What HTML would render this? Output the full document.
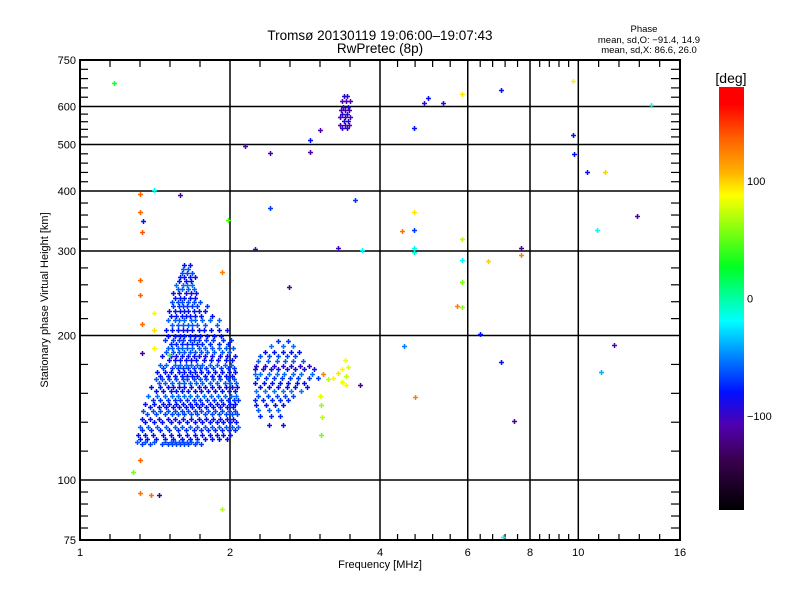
<!DOCTYPE html>
<html><head><meta charset="utf-8">
<style>
body{margin:0;background:#fff;}
svg{display:block;font-family:"Liberation Sans",sans-serif;}
</style></head>
<body>
<svg id="chart" width="800" height="600" viewBox="0 0 800 600">
<defs>
<linearGradient id="cbar" x1="0" y1="1" x2="0" y2="0">
<stop offset="0" stop-color="#000000"/>
<stop offset="0.12" stop-color="#3a0050"/>
<stop offset="0.2" stop-color="#5000b0"/>
<stop offset="0.278" stop-color="#0010ff"/>
<stop offset="0.36" stop-color="#0080ff"/>
<stop offset="0.447" stop-color="#00ffff"/>
<stop offset="0.575" stop-color="#00ff20"/>
<stop offset="0.744" stop-color="#ffff00"/>
<stop offset="0.80" stop-color="#ffb000"/>
<stop offset="0.875" stop-color="#ff6400"/>
<stop offset="0.96" stop-color="#ff0000"/>
<stop offset="1" stop-color="#ff0000"/>
</linearGradient>
</defs>
<text x="380" y="40" font-size="13.5" text-anchor="middle">Tromsø 20130119 19:06:00–19:07:43</text>
<text x="380" y="53" font-size="13.5" text-anchor="middle">RwPretec (8p)</text>
<text x="644" y="32" font-size="9.5" text-anchor="middle">Phase</text>
<text x="649" y="43" font-size="9.5" text-anchor="middle">mean, sd,O: −91.4, 14.9</text>
<text x="649" y="53" font-size="9.5" text-anchor="middle">mean, sd,X:  86.6, 26.0</text>
<g id="grid"></g>
<g id="ticks"></g>
<g id="marks"></g>
<rect x="80" y="60" width="600" height="480" fill="none" stroke="#000" stroke-width="2"/>
<text x="380" y="568" font-size="11" text-anchor="middle">Frequency [MHz]</text>
<text transform="translate(48,300) rotate(-90)" font-size="11" text-anchor="middle">Stationary phase Virtual Height [km]</text>
<rect x="719" y="87" width="25" height="423" fill="url(#cbar)"/>
<text x="731" y="83" font-size="14" text-anchor="middle">[deg]</text>
<g id="cticks"></g>
</svg>
<script>
const xTicks=[1,2,4,6,8,10,16];
const yTicks=[75,100,200,300,400,500,600,750];
const cbTicks=[100,0,-100];
// main cluster (rows of equal height)
const mainHeights=[280,270,260,250,240,230,220,210,200,192,185,178,171,165,159,153,147,142,137,132,127,122,119];
const mainFreqs=[
[1.62,1.66],[1.60,1.64,1.68],[1.58,1.63,1.67],[1.57,1.60,1.65,1.69],
[1.55,1.59,1.62,1.66,1.70],[1.54,1.58,1.61,1.64,1.68,1.72,1.80],
[1.52,1.56,1.60,1.63,1.66,1.70,1.75,1.84],[1.53,1.57,1.61,1.65,1.68,1.72,1.78,1.88],
[1.50,1.55,1.59,1.62,1.66,1.70,1.74,1.80,1.86,1.92],[1.52,1.56,1.60,1.64,1.68,1.72,1.76,1.82,1.90,1.98],
[1.49,1.54,1.58,1.62,1.66,1.70,1.75,1.80,1.86,1.93,1.99],[1.51,1.55,1.59,1.63,1.67,1.71,1.77,1.83,1.89,1.96,2.02],
[1.47,1.53,1.57,1.61,1.65,1.69,1.74,1.79,1.85,1.92,1.98,2.04],[1.45,1.50,1.55,1.60,1.64,1.68,1.72,1.78,1.84,1.90,1.96,2.02],
[1.44,1.48,1.53,1.58,1.62,1.66,1.71,1.76,1.82,1.88,1.95,2.00,2.06],[1.42,1.47,1.52,1.56,1.60,1.65,1.70,1.75,1.81,1.87,1.93,1.99,2.05],
[1.40,1.45,1.50,1.55,1.59,1.64,1.69,1.74,1.80,1.86,1.92,1.98,2.04,2.08],[1.38,1.44,1.49,1.54,1.58,1.63,1.68,1.73,1.79,1.85,1.91,1.97,2.03],
[1.36,1.42,1.48,1.53,1.57,1.62,1.67,1.72,1.78,1.84,1.90,1.96,2.02,2.07],[1.35,1.41,1.46,1.52,1.58,1.64,1.70,1.76,1.82,1.88,1.94,2.00,2.06],
[1.33,1.39,1.45,1.51,1.57,1.63,1.69,1.75,1.81,1.87,1.93,1.99,2.05],[1.32,1.36,1.42,1.48,1.54,1.60,1.66,1.72,1.78,1.84,1.90,1.97],
[1.33,1.38,1.46,1.50,1.53,1.56,1.59,1.62,1.65,1.70,1.75]];
const mainPhases=[-100,-85,-100,-80,-100,-90,-100,-80,-100,-95,-82,-100,-90,-100,-80,-100,-92,-100,-85,-100,-95,-100,-88];
const main2Heights=[275,265,255,245,235,225,215,205,196,188,181,174,168,162,156,150,144,139,134,129,124,120];
const main2Freqs=[
[1.61,1.65],[1.59,1.62,1.66,1.70],[1.56,1.61,1.64,1.68],[1.54,1.58,1.63,1.67,1.71],
[1.53,1.57,1.60,1.65,1.69,1.74],[1.51,1.55,1.59,1.62,1.65,1.69,1.73,1.78],
[1.50,1.55,1.58,1.62,1.67,1.70,1.76,1.82,1.90],[1.49,1.53,1.57,1.61,1.64,1.68,1.73,1.77,1.83,1.90,1.97],
[1.48,1.54,1.58,1.61,1.66,1.69,1.73,1.79,1.85,1.94,2.01],[1.50,1.53,1.57,1.60,1.64,1.68,1.73,1.78,1.84,1.90,1.96,2.03],
[1.46,1.52,1.56,1.60,1.65,1.69,1.73,1.78,1.84,1.91,1.97,2.05],[1.45,1.49,1.55,1.59,1.63,1.67,1.72,1.76,1.82,1.88,1.95,2.01],
[1.43,1.48,1.52,1.58,1.62,1.66,1.70,1.75,1.81,1.87,1.93,1.99,2.05],[1.42,1.46,1.51,1.56,1.61,1.64,1.69,1.74,1.79,1.85,1.91,1.98,2.04],
[1.39,1.45,1.50,1.54,1.58,1.62,1.67,1.73,1.78,1.84,1.90,1.96,2.02,2.07],[1.37,1.43,1.48,1.53,1.57,1.62,1.66,1.72,1.77,1.83,1.89,1.95,2.01,2.06],
[1.35,1.41,1.47,1.51,1.56,1.61,1.66,1.71,1.76,1.82,1.88,1.94,2.00,2.05],[1.34,1.40,1.45,1.50,1.55,1.60,1.65,1.70,1.75,1.81,1.87,1.93,1.99,2.05],
[1.33,1.38,1.44,1.50,1.55,1.61,1.67,1.73,1.79,1.85,1.91,1.97,2.03],[1.32,1.37,1.43,1.49,1.55,1.60,1.66,1.72,1.78,1.84,1.90,1.96,2.02,2.08],
[1.31,1.35,1.40,1.47,1.52,1.58,1.64,1.70,1.76,1.82,1.88,1.94,2.00],[1.30,1.35,1.41,1.48,1.52,1.55,1.58,1.61,1.64,1.67,1.72]];
const main2Phases=[-80,-100,-75,-105,-85,-100,-78,-100,-90,-80,-104,-78,-100,-84,-102,-76,-100,-86,-104,-80,-100,-82];
// second cluster
const secHeights=[195,185,177,170,163,156,150,143,136,130];
const secFreqs=[[2.50,2.62],[2.35,2.45,2.55,2.65,2.75],[2.28,2.38,2.48,2.58,2.68,2.80],
[2.25,2.33,2.42,2.50,2.60,2.70,2.82,2.95],[2.27,2.36,2.45,2.54,2.64,2.74,2.88,3.0],
[2.30,2.40,2.50,2.60,2.70,2.85],[2.28,2.38,2.48,2.58,2.68],[2.26,2.36,2.46,2.55],[2.30,2.42,2.52],[2.40,2.55]];
const secPhases=[-90,-100,-80,-105,-90,-100,-85,-100,-95,-100];
const sec2Heights=[190,181,173,166,159,153,147,140];
const sec2Freqs=[[2.42,2.56,2.68],[2.30,2.40,2.50,2.60,2.70],[2.26,2.35,2.45,2.55,2.65,2.76,2.88],
[2.24,2.30,2.39,2.48,2.57,2.67,2.78,2.92],[2.25,2.34,2.43,2.52,2.62,2.72,2.82],
[2.26,2.35,2.45,2.55,2.65,2.78],[2.24,2.33,2.43,2.52,2.62],[2.28,2.40,2.50]];
const sec2Phases=[-75,-85,-110,-75,-100,-72,-95,-80];
// upper purple cluster
const topHeights=[630,615,600,590,580,570,560,550,540];
const topFreqs=[[3.38,3.44],[3.35,3.42,3.48],[3.37,3.45],[3.34,3.40,3.47],[3.36,3.44],[3.33,3.41,3.48],[3.38,3.45],[3.32,3.40,3.46],[3.35,3.43]];
const topPhases=[-110,-120,-105,-125,-110,-118,-108,-122,-112];
// isolated echoes
const ptFreq=[1.17,1.32,1.32,1.33,1.34,1.41,1.59,1.32,1.32,1.33,1.33,1.41,1.41,1.41,1.51,1.93,1.98,1.28,1.32,1.32,1.39,1.44,1.93,
2.14,2.41,2.63,2.24,2.41,2.9,2.9,3.03,3.3,3.68,3.56,3.64,3.03,3.05,3.04,3.06,
3.40,3.45,3.36,3.30,3.42,3.22,3.35,3.42,3.15,3.08,
4.99,4.9,5.35,5.84,7.0,9.75,14.0,4.67,9.75,9.8,10.4,11.3,
4.67,4.43,4.67,4.67,4.67,5.84,7.68,7.68,5.84,6.6,10.9,13.1,
5.84,5.72,5.84,6.34,4.47,11.8,7.0,11.1,4.7,7.44,7.05];
const ptHeight=[671,394,362,329,346,402,392,261,243,211,184,223,205,188,182,271,348,104,110,94,93,93,87,
497,480,252,303,369,482,510,536,304,301,383,158,150,143,124,135,
178,172,170,167,165,163,160,158,162,166,
625,610,610,638,649,679,605,541,524,477,439,439,
361,330,332,305,299,318,305,295,287,286,332,355,
258,230,229,201,190,191,176,168,149,133,76];
const ptPhase=[30,135,135,140,-100,-30,-120,135,135,135,-130,90,95,90,40,125,45,55,135,130,130,-130,70,
-120,-125,-125,-120,-90,-125,-100,-120,-115,-40,-90,-130,80,60,55,70,
85,80,90,95,75,90,80,90,70,125,
-100,-110,-110,95,-100,90,-30,-100,-100,-100,-100,100,
95,130,-90,-40,-20,70,-130,125,-40,100,-40,-125,
55,125,60,-100,-70,-120,-100,-60,125,-130,-40];

const NS='http://www.w3.org/2000/svg';
const X0=80,X1=680,Y0=540,Y1=60;
function xS(f){return X0+(X1-X0)*Math.log(f)/Math.log(16);}
function yS(h){return Y0-(Y0-Y1)*Math.log(h/75)/Math.log(10);}
function cS(p){return 298.5-p*(211.5/180);}
const cstops=[[-180,[0,0,0]],[-150,[58,0,80]],[-120,[80,0,176]],[-100,[0,16,255]],[-70,[0,128,255]],[-38,[0,255,255]],[27,[0,255,32]],[88,[255,255,0]],[108,[255,176,0]],[135,[255,100,0]],[165,[255,0,0]],[180,[255,0,0]]];
function color(p){
  for(let i=0;i<cstops.length-1;i++){const a=cstops[i],b=cstops[i+1];
    if(p<=b[0]){const t=Math.max(0,(p-a[0])/(b[0]-a[0]));
      return 'rgb('+a[1].map((v,k)=>Math.round(v+(b[1][k]-v)*t)).join(',')+')';}}
  return 'rgb(255,0,0)';
}
function el(tag,attrs,parent){const e=document.createElementNS(NS,tag);for(const k in attrs)e.setAttribute(k,attrs[k]);parent.appendChild(e);return e;}
const grid=document.getElementById('grid'),ticks=document.getElementById('ticks'),marks=document.getElementById('marks'),ct=document.getElementById('cticks');
const svg=document.getElementById('chart');
xTicks.forEach((f,i)=>{
  const x=xS(f);
  if(i>0&&i<xTicks.length-1){const l=el('line',{x1:x,y1:Y1,x2:x,y2:Y0,stroke:'#000','stroke-width':1.5},grid);
    
    }
  const t=el('text',{x:x,y:556,'font-size':11,'text-anchor':'middle'},svg);t.textContent=String(f);
  
  
  if(i<xTicks.length-1){const xn=xS(xTicks[i+1]);
    for(let k=1;k<5;k++){const xx=x+(xn-x)*k/5;
      el('line',{x1:xx,y1:Y0,x2:xx,y2:Y0-6,stroke:'#000','stroke-width':1.2},ticks);
      el('line',{x1:xx,y1:Y1,x2:xx,y2:Y1+7,stroke:'#000','stroke-width':1.2},ticks);}}
});
yTicks.forEach((h,i)=>{
  const y=yS(h);
  if(i>0&&i<yTicks.length-1){const l=el('line',{x1:X0,y1:y,x2:X1,y2:y,stroke:'#000','stroke-width':1.5},grid);
    
    }
  const t=el('text',{x:76,y:y+4,'font-size':11,'text-anchor':'end'},svg);t.textContent=String(h);
  
  
  if(i<yTicks.length-1){const yn=yS(yTicks[i+1]);
    for(let k=1;k<5;k++){const yy=y+(yn-y)*k/5;
      el('line',{x1:X0,y1:yy,x2:X0+8,y2:yy,stroke:'#000','stroke-width':1.2},ticks);
      el('line',{x1:X1,y1:yy,x2:X1-9,y2:yy,stroke:'#000','stroke-width':1.2},ticks);}}
});
cbTicks.forEach(p=>{const t=el('text',{x:747,y:cS(p)+4,'font-size':11},ct);t.textContent=p<0?'−'+(-p):String(p);
  
  });
function plus(f,h,p){
  const x=Math.round(xS(f)),y=Math.round(yS(h)),c=color(p);
  const g=el('path',{d:'M'+(x-2)+' '+(y+0.5)+'h5M'+(x+0.5)+' '+(y-2)+'v5',stroke:c,'stroke-width':1.5,fill:'none'},marks);
  
  
}
function rows(H,F,P){H.forEach((h,i)=>F[i].forEach(f=>plus(f,h,P[i])));}
rows(mainHeights,mainFreqs,mainPhases);
rows(main2Heights,main2Freqs,main2Phases);
rows(secHeights,secFreqs,secPhases);
rows(sec2Heights,sec2Freqs,sec2Phases);
rows(topHeights,topFreqs,topPhases);
ptFreq.forEach((f,i)=>plus(f,ptHeight[i],ptPhase[i]));
</script>
</body></html>
